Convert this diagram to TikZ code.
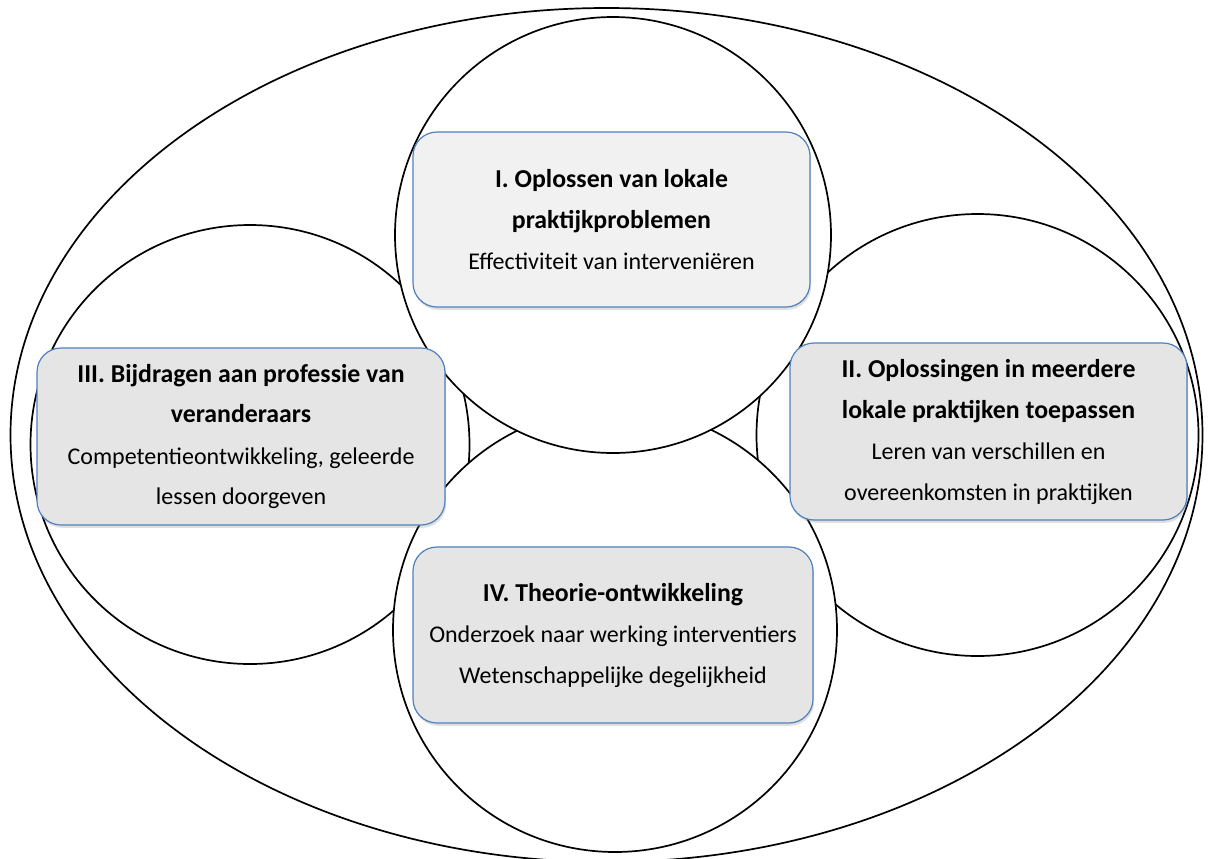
\documentclass[tikz,border=0pt]{standalone}
\usepackage{fontspec}
\setmainfont{Carlito}
\usetikzlibrary{shadows}
\definecolor{boxline}{RGB}{79,129,189}
\definecolor{boxfill}{RGB}{229,229,229}
\definecolor{boxfilltop}{RGB}{241,241,241}
\newcommand{\kop}[1]{{\fontsize{12.9}{20.5}\selectfont\bfseries #1}}
\tikzset{
  ring/.style={circle,draw,line width=0.85pt,fill=white,inner sep=0pt},
  goalbox/.style={draw=boxline,line width=0.6pt,fill=boxfill,rounded corners=12pt,
    align=center,inner sep=0pt,font=\fontsize{12}{20.5}\selectfont,
    drop shadow={shadow xshift=0.6pt,shadow yshift=-1.4pt,opacity=0.25}}
}
\begin{document}
\begin{tikzpicture}[x=0.5pt,y=-0.5pt]
  \useasboundingbox (0,0) rectangle (1216,858);
  \draw[line width=0.85pt] (606.5,435) ellipse [x radius=298pt, y radius=213.5pt];
  \node[ring,minimum size=219.5pt] (links) at (250,444.5) {};
  \node[ring,minimum size=221pt] (rechts) at (977.5,435) {};
  \node[ring,minimum size=222pt] (onder) at (615,630) {};
  \node[ring,minimum size=218pt] (boven) at (613,235) {};
  \node[goalbox,fill=boxfilltop,minimum width=198.5pt,minimum height=87.5pt] (doelI) at (611.5,219.5)
    {\kop{I. Oplossen van lokale}\\\kop{praktijkproblemen}\\Effectiviteit van interveniëren};
  \node[goalbox,minimum width=198.5pt,minimum height=88.5pt] (doelII) at (988.5,431.5)
    {\kop{II. Oplossingen in meerdere}\\\kop{lokale praktijken toepassen}\\Leren van verschillen en\\overeenkomsten in praktijken};
  \node[goalbox,minimum width=204pt,minimum height=88.5pt] (doelIII) at (241,436.5)
    {\kop{III. Bijdragen aan professie van}\\\kop{veranderaars}\\Competentieontwikkeling, geleerde\\lessen doorgeven};
  \node[goalbox,minimum width=200pt,minimum height=88pt] (doelIV) at (613,635)
    {\kop{IV. Theorie-ontwikkeling}\\Onderzoek naar werking interventiers\\Wetenschappelijke degelijkheid};
\end{tikzpicture}
\end{document}
